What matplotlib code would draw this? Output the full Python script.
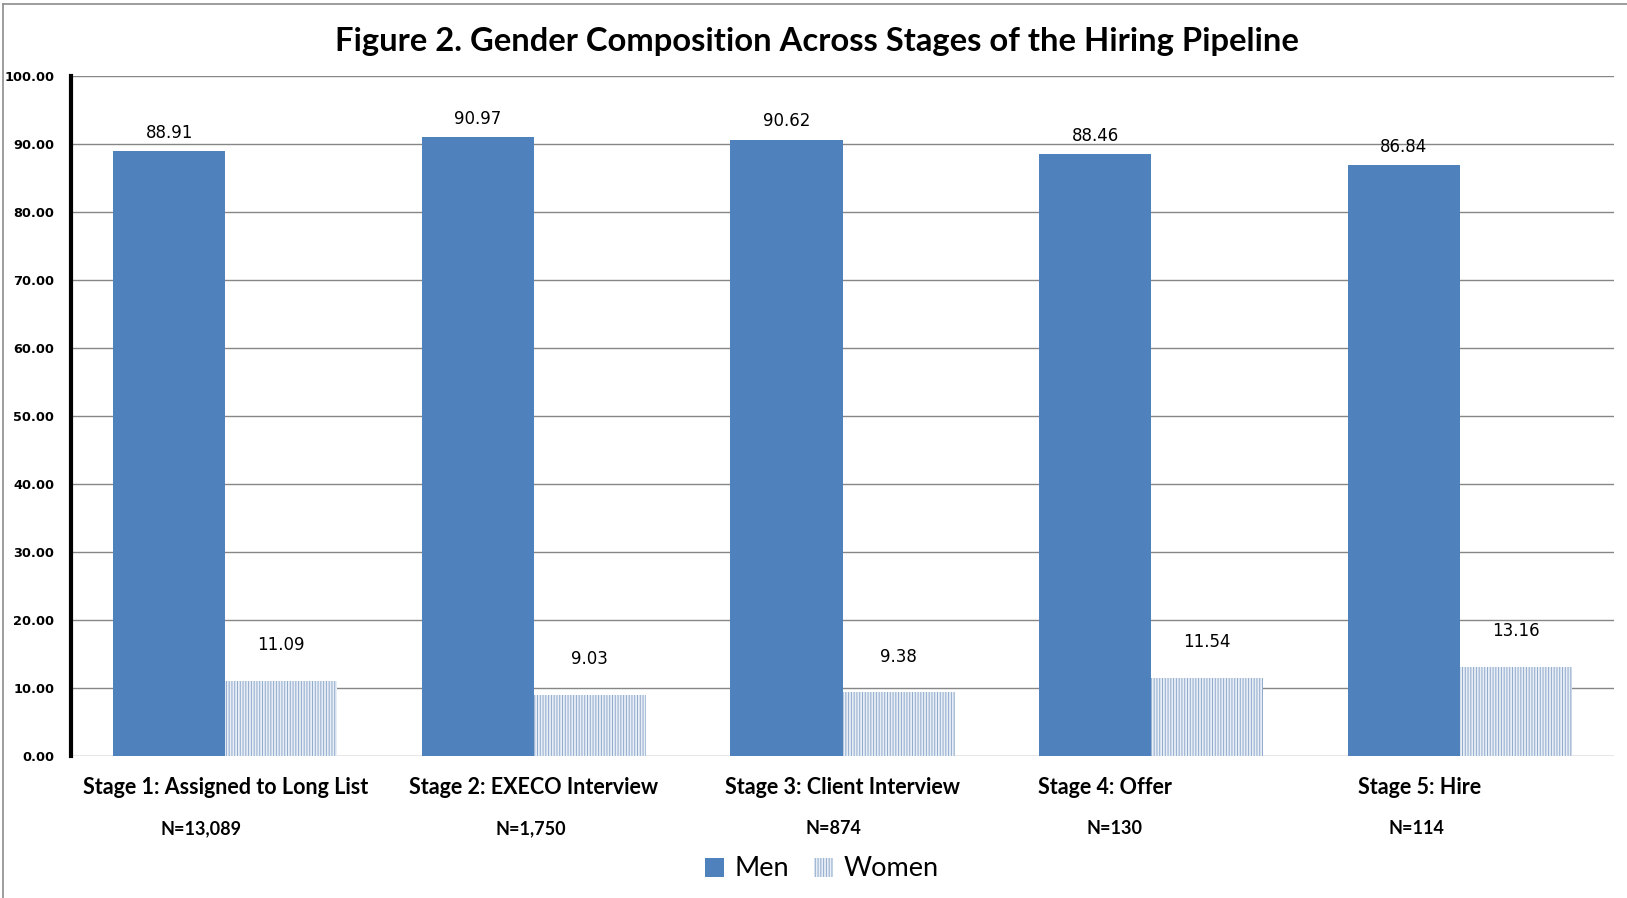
import matplotlib.pyplot as plt
from matplotlib.lines import Line2D
import numpy as np

# data
stages = ['Stage 1: Assigned to Long List', 'Stage 2: EXECO Interview',
          'Stage 3: Client Interview', 'Stage 4: Offer', 'Stage 5: Hire']
n_labels = ['N=13,089', 'N=1,750', 'N=874', 'N=130', 'N=114']
men = [88.91, 90.97, 90.62, 88.46, 86.84]
women = [11.09, 9.03, 9.38, 11.54, 13.16]
yticks = [0, 10, 20, 30, 40, 50, 60, 70, 80, 90, 100]

# label positions (the stage 4/5 text boxes sit a bit left of centre)
stage_x = [0.0, 1.0, 2.0, 2.85, 3.87]
n_x = [-0.08, 0.99, 1.97, 2.88, 3.86]

blue = '#4f81bd'
plt.rcParams['hatch.linewidth'] = 0.7

fig = plt.figure(figsize=(16.27, 8.98), dpi=100)
ax = fig.add_axes([71 / 1627, 1 - 756 / 898, (1614 - 71) / 1627, (756 - 76) / 898])

x = np.arange(len(stages))
w = 0.363
ax.bar(x - w / 2, men, w, color=blue, label='Men', zorder=3)
ax.bar(x + w / 2, women, w, facecolor='#e8eef6', hatch='||||||', edgecolor='#8fa9cc',
       linewidth=0, label='Women', zorder=3)

for xi, v in zip(x, men):
    ax.annotate(f'{v:.2f}', (xi - w / 2, v), xytext=(0, 7), textcoords='offset points',
                ha='center', va='bottom', fontsize=12, family='DejaVu Sans')
for xi, v in zip(x, women):
    ax.annotate(f'{v:.2f}', (xi + w / 2, v), xytext=(0, 19), textcoords='offset points',
                ha='center', va='bottom', fontsize=12, family='DejaVu Sans')

ax.set_xlim(-0.5, 4.5)
ax.set_ylim(0, 100)
ax.set_yticks(yticks)
ax.set_yticklabels([f'{t:.2f}' for t in yticks], fontsize=9.3, fontweight='bold',
                   family='DejaVu Sans')
ax.tick_params(axis='y', length=0, pad=12)
ax.set_xticks([])
ax.yaxis.grid(True, color='#868686', linewidth=1, zorder=0)
ax.set_axisbelow(True)
for s in ['top', 'right', 'bottom']:
    ax.spines[s].set_visible(False)
ax.spines['left'].set_linewidth(3)
ax.spines['left'].set_color('black')

for sx, name in zip(stage_x, stages):
    ax.text(sx, -4.6, name, ha='center', va='center', fontsize=15.5,
            fontweight='bold', family='Lato', clip_on=False)
for nx, nl in zip(n_x, n_labels):
    ax.text(nx, -10.7, nl, ha='center', va='center', fontsize=13,
            fontweight='bold', family='Lato', clip_on=False)

fig.text(817 / 1627, 1 - 41 / 898,
         'Figure 2. Gender Composition Across Stages of the Hiring Pipeline',
         ha='center', va='center', fontsize=23.6, fontweight='bold', family='Lato')

fig.legend(loc='center', bbox_to_anchor=(822 / 1627, 1 - 869 / 898), ncol=2,
           frameon=False, prop={'family': 'Lato', 'size': 19.5}, handlelength=0.7,
           handleheight=0.7, handletextpad=0.4, columnspacing=0.9)

# outer frame (top and left edges visible in the reference)
fig.add_artist(Line2D([3 / 1627, 3 / 1627], [0, 1 - 4 / 898], color='#8c8c8c',
                      linewidth=1.2, transform=fig.transFigure))
fig.add_artist(Line2D([3 / 1627, 1], [1 - 4 / 898, 1 - 4 / 898], color='#8c8c8c',
                      linewidth=1.2, transform=fig.transFigure))

fig.savefig('out.png', dpi=100, facecolor='white')
